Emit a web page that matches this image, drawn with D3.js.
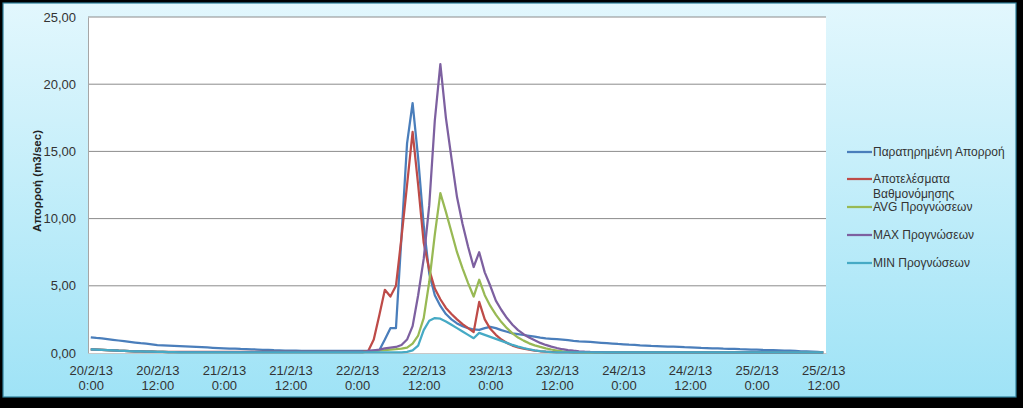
<!DOCTYPE html>
<html><head><meta charset="utf-8">
<script src="https://cdn.jsdelivr.net/npm/d3@7"></script>
<style>html,body{margin:0;padding:0;background:#000;} svg{display:block;}</style>
</head><body><svg id="c" width="1023" height="408"></svg>
<script>
// Hourly values, 20/2/13 0:00 .. 25/2/13 12:00 (133 points)
const observed = [
1.17,1.12,1.08,1.03,0.98,0.93,0.88,0.83,0.78,0.73,0.69,0.64,0.59,
0.57,0.55,0.53,0.51,0.49,0.47,0.45,0.43,0.41,0.39,0.37,0.35,
0.33,0.32,0.30,0.29,0.27,0.26,0.24,0.23,0.21,0.20,0.18,0.17,
0.17,0.16,0.16,0.16,0.16,0.15,0.15,0.15,0.15,0.15,0.15,0.15,
0.15,0.15,0.15,0.20,
1.00,1.85,1.85,8.70,15.60,18.60,14.50,
9.50,5.90,4.30,3.50,2.90,2.50,2.20,2.00,1.85,1.75,
1.72,1.85,1.95,1.85,1.70,1.58,1.46,1.40,1.34,1.28,
1.22,1.15,1.09,1.06,1.03,1.00,0.95,0.90,0.87,
0.85,0.82,0.79,0.76,0.73,0.70,0.67,0.65,0.62,0.60,0.57,0.55,
0.53,0.52,0.50,0.48,0.47,0.45,0.43,0.42,0.40,0.38,0.37,0.35,
0.34,0.32,0.31,0.30,0.28,0.27,0.26,0.25,0.23,0.22,
0.21,0.20,0.18,0.17,0.15,0.13,0.12,0.10,0.08,0.05];

const calibration = [
0.27,0.25,0.23,0.21,0.19,0.17,0.16,0.14,0.13,0.12,0.11,0.10,0.09,0.09,0.08,0.08,
0.08,0.08,0.08,0.08,0.08,0.08,0.08,0.08,0.08,0.08,
0.08,0.08,0.08,0.08,0.08,0.08,0.08,0.08,0.08,0.08,
0.08,0.08,0.08,0.08,0.08,0.08,0.08,0.08,0.08,0.08,
0.08,0.08,0.08,0.08,
0.15,1.00,2.80,4.70,4.20,5.00,8.60,12.50,16.45,12.50,
8.20,6.20,4.80,4.00,3.35,2.90,2.50,2.15,1.85,1.55,
3.80,2.50,1.80,1.35,1.00,0.75,0.55,0.42,0.32,0.25,
0.18,0.13,0.10,0.08,0.07,0.06,0.06,0.05,0.05,0.05,
0.05,0.05,0.05,0.05,0.05,0.05,0.05,0.05,0.05,0.05,
0.05,0.05,0.05,0.05,0.05,0.05,0.05,0.05,0.05,0.05,
0.05,0.05,0.05,0.05,0.05,0.05,0.05,0.05,0.05,0.05,
0.05,0.05,0.05,0.05,0.05,0.05,0.05,0.05,0.05,0.05,
0.05,0.05,0.05];

const avgForecast = [
0.27,0.25,0.23,0.21,0.19,0.17,0.16,0.14,0.13,0.12,0.11,0.10,0.09,0.08,0.07,0.07,
0.06,0.06,0.06,0.06,0.06,0.06,0.06,0.06,0.06,0.06,
0.06,0.06,0.06,0.06,0.06,0.06,0.06,0.06,0.06,0.06,
0.06,0.06,0.06,0.06,0.06,0.06,0.06,0.06,0.06,0.06,
0.06,0.06,0.06,0.06,
0.10,0.15,0.20,0.22,0.25,0.28,0.32,0.40,0.70,1.30,
2.60,5.30,8.80,11.90,10.50,9.00,7.50,6.30,5.20,4.20,
5.45,4.30,3.50,2.85,2.30,1.85,1.46,1.15,0.92,0.72,
0.57,0.45,0.35,0.26,0.18,0.12,0.09,0.07,0.06,0.05,
0.05,0.05,0.05,0.05,0.05,0.05,0.05,0.05,0.05,0.05,
0.05,0.05,0.05,0.05,0.05,0.05,0.05,0.05,0.05,0.05,
0.05,0.05,0.05,0.05,0.05,0.05,0.05,0.05,0.05,0.05,
0.05,0.05,0.05,0.05,0.05,0.05,0.05,0.05,0.05,0.05,
0.05,0.05,0.05];

const maxForecast = [
0.27,0.25,0.23,0.21,0.19,0.17,0.16,0.14,0.13,0.12,0.11,0.10,0.09,0.08,0.07,0.07,
0.06,0.06,0.06,0.06,0.06,0.06,0.06,0.06,0.06,0.06,
0.06,0.06,0.06,0.06,0.06,0.06,0.06,0.06,0.06,0.06,
0.06,0.06,0.06,0.06,0.06,0.06,0.06,0.06,0.06,0.06,
0.06,0.06,0.06,0.06,
0.15,0.20,0.25,0.35,0.40,0.45,0.60,1.00,2.00,4.30,
7.00,11.00,17.30,21.50,17.50,14.50,11.60,9.60,7.90,6.40,
7.50,6.00,5.00,3.90,3.20,2.60,2.10,1.70,1.40,1.15,
0.95,0.75,0.60,0.47,0.37,0.28,0.22,0.17,0.13,0.10,
0.08,0.07,0.06,0.05,0.05,0.05,0.05,0.05,0.05,0.05,
0.05,0.05,0.05,0.05,0.05,0.05,0.05,0.05,0.05,0.05,
0.05,0.05,0.05,0.05,0.05,0.05,0.05,0.05,0.05,0.05,
0.05,0.05,0.05,0.05,0.05,0.05,0.05,0.05,0.05,0.05,
0.05,0.05,0.05];

const minForecast = [
0.27,0.25,0.23,0.21,0.19,0.17,0.16,0.14,0.13,0.12,0.11,0.10,0.09,0.08,0.07,0.07,
0.05,0.05,0.05,0.05,0.05,0.05,0.05,0.05,0.05,0.05,
0.05,0.05,0.05,0.05,0.05,0.05,0.05,0.05,0.05,0.05,
0.05,0.05,0.05,0.05,0.05,0.05,0.05,0.05,0.05,0.05,
0.05,0.05,0.05,0.05,
0.05,0.05,0.05,0.05,0.05,0.05,0.05,0.08,0.20,0.55,
1.70,2.40,2.60,2.55,2.35,2.10,1.85,1.60,1.35,1.10,
1.50,1.35,1.20,1.05,0.90,0.75,0.60,0.48,0.37,0.28,
0.20,0.14,0.10,0.07,0.05,0.05,0.05,0.05,0.05,0.05,
0.05,0.05,0.05,0.05,0.05,0.05,0.05,0.05,0.05,0.05,
0.05,0.05,0.05,0.05,0.05,0.05,0.05,0.05,0.05,0.05,
0.05,0.05,0.05,0.05,0.05,0.05,0.05,0.05,0.05,0.05,
0.05,0.05,0.05,0.05,0.05,0.05,0.05,0.05,0.05,0.05,
0.05,0.05,0.05];

const seriesNames = ["Παρατηρημένη Απορροή","Αποτελέσματα Βαθμονόμησης","AVG Προγνώσεων","MAX Προγνώσεων","MIN Προγνώσεων"];
const seriesColors = ["#4A7EBB","#BE4B48","#98B954","#7D60A0","#46AAC5"];
const tickIndex = [0,12,24,36,48,60,72,84,96,108,120,132];
const tickDates = ["20/2/13","20/2/13","21/2/13","21/2/13","22/2/13","22/2/13","23/2/13","23/2/13","24/2/13","24/2/13","25/2/13","25/2/13"];
const tickTimes = ["0:00","12:00","0:00","12:00","0:00","12:00","0:00","12:00","0:00","12:00","0:00","12:00"];
const yTicks = [0,5,10,15,20,25];

const allSeries = [observed, calibration, avgForecast, maxForecast, minForecast];
allSeries.forEach((s,i)=>{ if(s.length!==133) throw new Error("series "+i+" length "+s.length); });

const svg = d3.select("#c");
const font = "'Liberation Sans', Arial, sans-serif";
const defs = svg.append("defs");
const grad = defs.append("linearGradient").attr("id","bg").attr("x1",0).attr("y1",0).attr("x2",0).attr("y2",1);
grad.append("stop").attr("offset","0%").attr("stop-color","#E2F7FD");
grad.append("stop").attr("offset","100%").attr("stop-color","#9FE3F6");

svg.append("rect").attr("x",3).attr("y",3).attr("width",1013).attr("height",394)
  .attr("fill","url(#bg)").attr("stroke","#2E7F9B").attr("stroke-width",1.2);

const L=88,R=826,T=17,B=353;
svg.append("rect").attr("x",L).attr("y",T).attr("width",R-L).attr("height",B-T).attr("fill","#fff");

const x = d3.scaleLinear().domain([-0.5,132.5]).range([L,R]);
const y = d3.scaleLinear().domain([0,25]).range([B,T]);

// gridlines
svg.append("g").selectAll("line").data(yTicks.filter(d=>d>0)).join("line")
  .attr("x1",L).attr("x2",R).attr("y1",d=>y(d)).attr("y2",d=>y(d))
  .attr("stroke","#8C8C8C").attr("stroke-width",1);

// y axis
const yAxis = svg.append("g").attr("transform",`translate(${L},0)`)
  .call(d3.axisLeft(y).tickValues(yTicks).tickSize(0).tickPadding(12)
    .tickFormat(d=>d3.format(".2f")(d).replace(".",",")));
yAxis.select(".domain").attr("stroke","#A6A6A6");
yAxis.selectAll("text").attr("font-family",font).attr("font-size",13).attr("fill","#333");

// x axis
const xAxis = svg.append("g").attr("transform",`translate(0,${B})`)
  .call(d3.axisBottom(x).tickValues(tickIndex).tickSize(0).tickFormat(""));
xAxis.select(".domain").attr("stroke","#C8C8C8");
xAxis.selectAll(".tick").each(function(d,i){
  const t = d3.select(this).append("text").attr("font-family",font).attr("font-size",13)
    .attr("fill","#333").attr("text-anchor","middle");
  t.append("tspan").attr("x",0).attr("y",22).text(tickDates[i]);
  t.append("tspan").attr("x",0).attr("y",37).text(tickTimes[i]);
});

// y title
svg.append("text").attr("transform","translate(41,181) rotate(-90)")
  .attr("text-anchor","middle").attr("font-family",font).attr("font-size",11.5)
  .attr("font-weight","bold").attr("fill","#222").text("Απορροή (m3/sec)");

// lines
const line = d3.line().x((d,i)=>x(i)).y(d=>y(d));
allSeries.forEach((s,i)=>{
  svg.append("path").datum(s).attr("d",line).attr("fill","none")
    .attr("stroke",seriesColors[i]).attr("stroke-width",2.25).attr("stroke-linejoin","round");
});

// legend
const legY = [152,179,207,235,263];
const lg = svg.append("g");
seriesNames.forEach((n,i)=>{
  lg.append("line").attr("x1",847).attr("x2",872).attr("y1",legY[i]).attr("y2",legY[i])
    .attr("stroke",seriesColors[i]).attr("stroke-width",2.25);
  const t = lg.append("text").attr("font-family",font).attr("font-size",12).attr("fill","#333");
  if(i===1){
    t.append("tspan").attr("x",873).attr("y",legY[i]+4).text("Αποτελέσματα");
    t.append("tspan").attr("x",873).attr("y",legY[i]+19).text("Βαθμονόμησης");
  } else {
    t.append("tspan").attr("x",873).attr("y",legY[i]+4).text(n);
  }
});
</script></body></html>
